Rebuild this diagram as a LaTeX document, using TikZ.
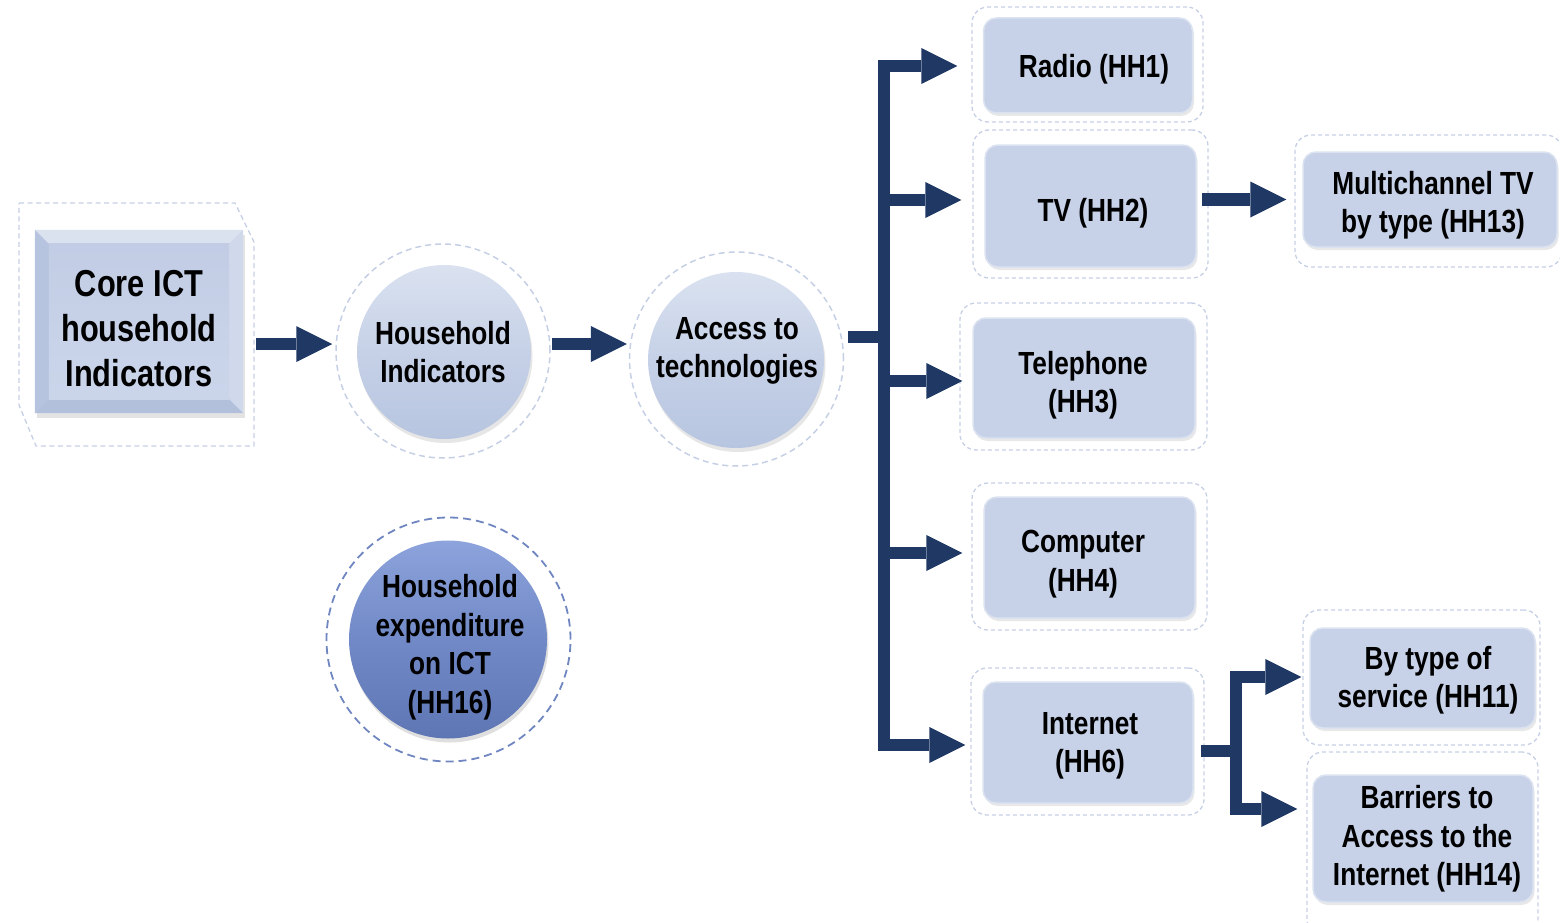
\documentclass[tikz,border=0pt]{standalone}
\usepackage{fontspec}
\setmainfont{Liberation Sans}[FakeStretch=0.82]
\usetikzlibrary{arrows.meta,shadows,calc}
\definecolor{navy}{HTML}{203864}
\definecolor{boxfill}{HTML}{C7D2E8}
\definecolor{boxline}{HTML}{DCE3F0}
\definecolor{dashc}{HTML}{C6D0E5}
\definecolor{darkdash}{HTML}{6F86C0}
\definecolor{HHtop}{HTML}{8CA3DC}
\definecolor{HHmid}{HTML}{7189C6}
\definecolor{HHbot}{HTML}{5E76B3}
\definecolor{ballTop}{HTML}{DAE2F0}
\definecolor{ballMid}{HTML}{C6D1E7}
\definecolor{ballBot}{HTML}{B7C5E0}
\definecolor{bevTop}{HTML}{DAE1EF}
\definecolor{bevLeft}{HTML}{B6C4DF}
\definecolor{bevRight}{HTML}{D0D9EB}
\definecolor{bevBot}{HTML}{B2C0DB}
\definecolor{faceTop}{HTML}{C2CDE5}
\definecolor{faceBot}{HTML}{CBD5EA}
\tikzset{
  tip/.style={-{Triangle[length=36pt,width=36pt,line width=0pt]}},
  arr/.style={draw=navy, line width=12.5pt, line join=miter, tip},
  shaft/.style={draw=navy, line width=12.5pt},
  txt/.style={font=\fontsize{32}{38.5}\selectfont\bfseries, align=center, text=black, inner sep=0pt},
  bigtxt/.style={font=\fontsize{37.5}{45}\selectfont\bfseries, align=center, text=black, inner sep=0pt},
  outbox/.style={draw=dashc, line width=1.3pt, dash pattern=on 4pt off 3pt, rounded corners=16pt, inner sep=0pt},
  inbox/.style={draw=boxline, line width=1.5pt, fill=boxfill, rounded corners=13pt, inner sep=0pt,
    drop shadow={opacity=0.18, shadow xshift=1.5pt, shadow yshift=-3pt}},
  outcirc/.style={circle, draw=dashc, line width=1.5pt, dash pattern=on 6pt off 4pt, inner sep=0pt},
  ballc/.style={circle, inner sep=0pt, top color=ballTop, bottom color=ballBot, middle color=ballMid,
    drop shadow={opacity=0.2, shadow xshift=1.5pt, shadow yshift=-4pt}},
  darkball/.style={circle, inner sep=0pt, top color=HHtop, bottom color=HHbot, middle color=HHmid,
    drop shadow={opacity=0.25, shadow xshift=1.5pt, shadow yshift=-4pt}},
}
\begin{document}
\begin{tikzpicture}[x=1pt,y=-1pt]
\useasboundingbox (0,0) rectangle (1560,923);

% ---- Core ICT box ----
\draw[dashc, line width=1.3pt, dash pattern=on 5pt off 3.5pt]
  (19,203) -- (235,203) -- (254,242) -- (254,446) -- (36,446) -- (19,405) -- cycle;
\node[inner sep=0pt, minimum width=208pt, minimum height=183pt, fill=boxfill,
  drop shadow={opacity=0.22, shadow xshift=2pt, shadow yshift=-5pt}] (core) at (139,321.5) {};
\fill[bevTop] (core.north west) -- (core.north east) -- ($(core.north east)+(-14,14)$) -- ($(core.north west)+(14,14)$) -- cycle;
\fill[bevLeft] (core.north west) -- ($(core.north west)+(14,14)$) -- ($(core.south west)+(14,-14)$) -- (core.south west) -- cycle;
\fill[bevRight] (core.north east) -- ($(core.north east)+(-14,14)$) -- ($(core.south east)+(-14,-14)$) -- (core.south east) -- cycle;
\fill[bevBot] (core.south west) -- ($(core.south west)+(14,-14)$) -- ($(core.south east)+(-14,-14)$) -- (core.south east) -- cycle;
\shade[top color=faceTop, bottom color=faceBot] ($(core.north west)+(14,14)$) rectangle ($(core.south east)+(-14,-14)$);
\node[bigtxt] (coretxt) at (139,329) {Core ICT\\household\\Indicators};

% ---- Household Indicators ----
\node[outcirc, minimum size=214pt] (hho) at (443,351) {};
\node[ballc, minimum size=174pt] (hh) at (444,352) {};
\node[txt] (hhtxt) at (443,352) {Household\\Indicators};

% ---- Access to technologies ----
\node[outcirc, minimum size=214pt] (acco) at (736.5,359) {};
\node[ballc, minimum size=176pt] (acc) at (736,360) {};
\node[txt] (acctxt) at (737,351) {Access to\\technologies};

% ---- Household expenditure ----
\node[circle, draw=darkdash, line width=1.8pt, dash pattern=on 8pt off 5pt, minimum size=244pt, inner sep=0pt] (expo) at (448.5,639.5) {};
\node[darkball, minimum size=198pt] (exp) at (448,639.5) {};
\node[txt] (exptxt) at (450,647) {Household\\expenditure\\on ICT\\(HH16)};

% ---- Right side boxes ----
\node[outbox, minimum width=231pt, minimum height=115pt] (radioo) at (1087.5,64.5) {};
\node[inbox, minimum width=209pt, minimum height=95pt] (radio) at (1088,65.5) {};
\node[txt] (radiotxt) at (1094,69) {Radio (HH1)};

\node[outbox, minimum width=235pt, minimum height=148pt] (tvo) at (1090.5,204) {};
\node[inbox, minimum width=211pt, minimum height=122pt] (tv) at (1090.5,206) {};
\node[txt] (tvtxt) at (1093,213) {TV (HH2)};

\node[outbox, minimum width=247pt, minimum height=147pt] (telo) at (1083.5,376.5) {};
\node[inbox, minimum width=222pt, minimum height=120pt] (tel) at (1084,378) {};
\node[txt] (teltxt) at (1083,385) {Telephone\\(HH3)};

\node[outbox, minimum width=235pt, minimum height=147pt] (compo) at (1089.5,556.5) {};
\node[inbox, minimum width=211pt, minimum height=121pt] (comp) at (1089.5,557.5) {};
\node[txt] (comptxt) at (1083,564) {Computer\\(HH4)};

\node[outbox, minimum width=233pt, minimum height=147pt] (ineto) at (1087.5,741.5) {};
\node[inbox, minimum width=210pt, minimum height=121pt] (inet) at (1088,742.5) {};
\node[txt] (inettxt) at (1090,746) {Internet\\(HH6)};

\node[outbox, minimum width=267pt, minimum height=132pt] (mco) at (1428.5,201) {};
\node[inbox, minimum width=254pt, minimum height=95pt] (mc) at (1430,199.5) {};
\node[txt] (mctxt) at (1433,205) {Multichannel TV\\by type (HH13)};

\node[outbox, minimum width=237pt, minimum height=135pt] (byo) at (1421.5,677.5) {};
\node[inbox, minimum width=225pt, minimum height=100pt] (by) at (1422.5,678) {};
\node[txt] (bytxt) at (1428,680) {By type of\\service (HH11)};

\node[outbox, minimum width=231pt, minimum height=183pt] (baro) at (1422.5,843.5) {};
\node[inbox, minimum width=220pt, minimum height=127pt] (bar) at (1423,838.5) {};
\node[txt] (bartxt) at (1427,839) {Barriers to\\Access to the\\Internet (HH14)};

% ---- Connectors ----
\draw[arr, shorten <=13pt, shorten >=3pt] ([yshift=7pt]hho.west -| core.east) -- ([yshift=7pt]hho.west);
\draw[arr, shorten <=1pt, shorten >=2pt] ([yshift=7pt]hho.east) -- ([yshift=7pt]hho.east -| acco.west);

\coordinate (b1) at (884,66);
\coordinate (b2) at (884,200);
\coordinate (b3) at (884,381);
\coordinate (b4) at (884,553);
\coordinate (b5) at (884,745);
\coordinate (tk) at (884,337);

\draw[shaft, shorten <=4pt] (acco.east |- tk) -- (tk);
\draw[arr, {Triangle[length=36pt,width=36pt,line width=0pt]}-{Triangle[length=36pt,width=36pt,line width=0pt]},
  shorten <=14pt, shorten >=5pt] (b1 -| radioo.west) -- (b1) -- (b5) -- (b5 -| ineto.west);
\draw[arr, shorten >=11pt] (b2) -- (b2 -| tvo.west);
\draw[arr, shorten >=10pt] (b3) -- (b3 -| tel.west);
\draw[arr, shorten >=9pt] (b4) -- (b4 -| compo.west);

\draw[arr, shorten <=5pt, shorten >=8pt] (tv.east |- mc) -- (mco.west |- mc);

\coordinate (j0) at (1236,751);
\coordinate (j1) at (1236,677);
\coordinate (j2) at (1236,809);
\draw[shaft, shorten <=7pt] (inet.east |- j0) -- (j0);
\draw[arr, {Triangle[length=36pt,width=36pt,line width=0pt]}-{Triangle[length=36pt,width=36pt,line width=0pt]},
  shorten <=1pt, shorten >=9pt] (j1 -| byo.west) -- (j1) -- (j2) -- (j2 -| baro.west);
\end{tikzpicture}
\end{document}
